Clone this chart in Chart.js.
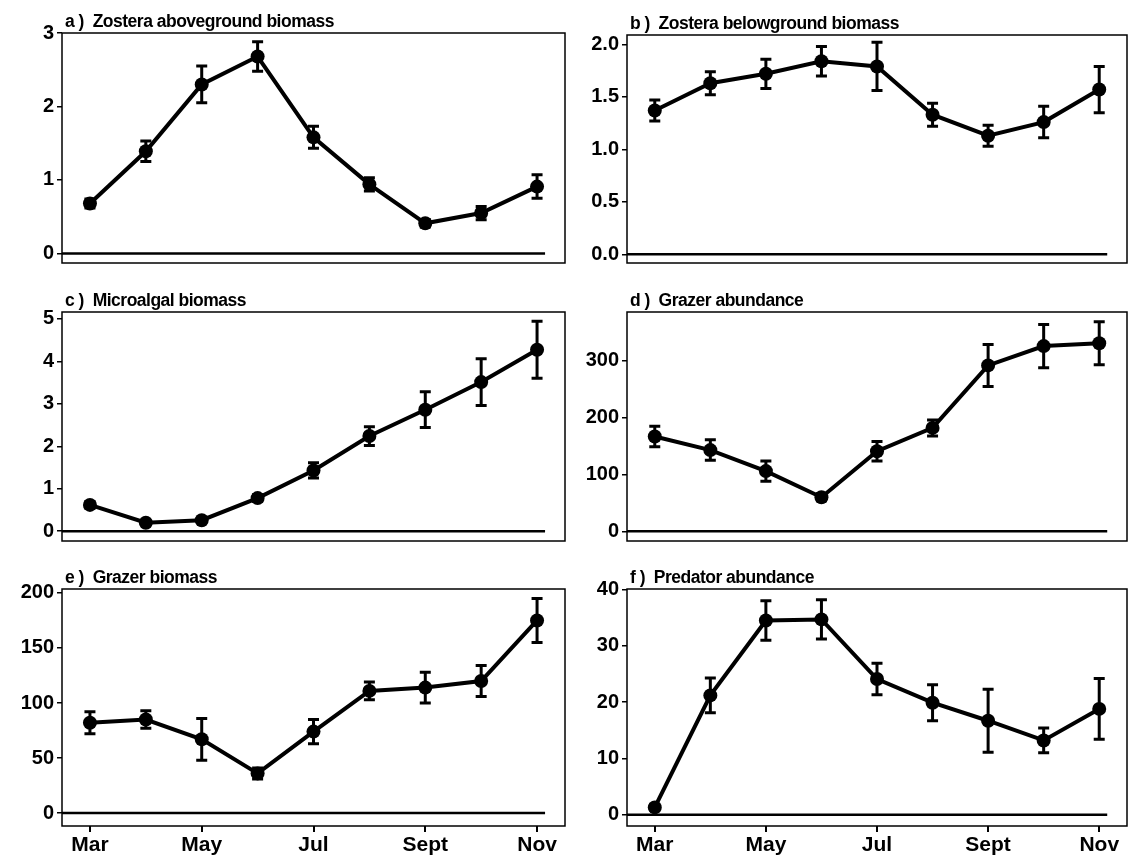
<!DOCTYPE html>
<html>
<head>
<meta charset="utf-8">
<script src="https://cdn.jsdelivr.net/npm/chart.js@4.4.0/dist/chart.umd.min.js"></script>
<style>
  body { margin: 0; background: #fff; }
  #wrap { position: relative; width: 1134px; height: 861px; overflow: hidden; }
  canvas { position: absolute; }
</style>
</head>
<body>
<div id="wrap">
  <canvas id="pa" width="572" height="278" style="left:0;top:0"></canvas>
  <canvas id="pb" width="562" height="278" style="left:572px;top:0"></canvas>
  <canvas id="pc" width="572" height="278" style="left:0;top:278px"></canvas>
  <canvas id="pd" width="562" height="278" style="left:572px;top:278px"></canvas>
  <canvas id="pe" width="572" height="305" style="left:0;top:556px"></canvas>
  <canvas id="pf" width="562" height="305" style="left:572px;top:556px"></canvas>
</div>
<script>
// sampling months and the labels shown under the bottom panels
const months = ["Mar", "Apr", "May", "Jun", "Jul", "Aug", "Sept", "Oct", "Nov"];
const monthLabels = ["Mar", "", "May", "", "Jul", "", "Sept", "", "Nov"];

// a) Zostera aboveground biomass
const aboveMean = [0.68, 1.39, 2.30, 2.68, 1.58, 0.94, 0.41, 0.55, 0.91];
const aboveErr = [0.06, 0.14, 0.25, 0.20, 0.15, 0.09, 0.05, 0.09, 0.16];
const aboveTicks = [0, 1, 2, 3];

// b) Zostera belowground biomass
const belowMean = [1.37, 1.63, 1.72, 1.84, 1.79, 1.33, 1.13, 1.26, 1.57];
const belowErr = [0.10, 0.11, 0.14, 0.14, 0.23, 0.11, 0.10, 0.15, 0.22];
const belowTicks = [0, 0.5, 1, 1.5, 2];

// c) Microalgal biomass
const algaeMean = [0.62, 0.20, 0.26, 0.78, 1.43, 2.24, 2.86, 3.51, 4.27];
const algaeErr = [0.08, 0.05, 0.05, 0.08, 0.18, 0.22, 0.42, 0.55, 0.67];
const algaeTicks = [0, 1, 2, 3, 4, 5];

// d) Grazer abundance
const grazerAbMean = [167, 143, 106, 60, 141, 182, 292, 326, 331];
const grazerAbErr = [18, 18, 18, 6, 17, 14, 37, 38, 38];
const grazerAbTicks = [0, 100, 200, 300];

// e) Grazer biomass
const grazerBmMean = [82, 85, 67, 36, 74, 111, 114, 120, 175];
const grazerBmErr = [10, 8, 19, 5, 11, 8, 14, 14, 20];
const grazerBmTicks = [0, 50, 100, 150, 200];

// f) Predator abundance
const predMean = [1.3, 21.2, 34.5, 34.7, 24.1, 19.9, 16.7, 13.2, 18.8];
const predErr = [0.5, 3.1, 3.5, 3.5, 2.8, 3.2, 5.6, 2.2, 5.4];
const predTicks = [0, 10, 20, 30, 40];

const FONT = "'Liberation Sans', Arial, Helvetica, sans-serif";

const panelDecor = {
  id: "panelDecor",
  beforeDatasetsDraw(chart, args, opts) {
    const { ctx, chartArea, scales } = chart;
    const x = scales.x, y = scales.y;
    ctx.save();
    // zero line
    const y0 = y.getPixelForValue(0);
    ctx.strokeStyle = "#000";
    ctx.lineWidth = 2.5;
    ctx.beginPath();
    ctx.moveTo(chartArea.left, y0);
    ctx.lineTo(x.getPixelForValue(months.length - 1) + 8, y0);
    ctx.stroke();
    // error bars
    ctx.lineWidth = 3;
    opts.err.forEach((e, i) => {
      const px = x.getPixelForValue(i);
      const top = y.getPixelForValue(opts.mean[i] + e);
      const bot = y.getPixelForValue(opts.mean[i] - e);
      ctx.beginPath();
      ctx.moveTo(px, top); ctx.lineTo(px, bot);
      ctx.moveTo(px - 5.5, top); ctx.lineTo(px + 5.5, top);
      ctx.moveTo(px - 5.5, bot); ctx.lineTo(px + 5.5, bot);
      ctx.stroke();
    });
    ctx.restore();
  },
  afterDraw(chart, args, opts) {
    const { ctx, chartArea } = chart;
    ctx.save();
    ctx.strokeStyle = "#000";
    ctx.lineWidth = 1.5;
    ctx.strokeRect(chartArea.left, chartArea.top, chartArea.right - chartArea.left, chartArea.bottom - chartArea.top);
    ctx.fillStyle = "#000";
    ctx.font = "bold 17.5px " + FONT;
    ctx.letterSpacing = "-0.5px";
    ctx.textBaseline = "alphabetic";
    ctx.fillText(opts.title, chartArea.left + 3, chartArea.top - 6);
    ctx.restore();
  }
};

function makePanel(id, title, mean, err, ticks, decimals, yMin, yMax, layout) {
  new Chart(document.getElementById(id), {
    type: "line",
    data: {
      labels: months,
      datasets: [{
        data: mean,
        borderColor: "#000",
        backgroundColor: "#000",
        borderWidth: 4,
        pointRadius: 7,
        pointBorderWidth: 0,
        tension: 0
      }]
    },
    options: {
      responsive: false,
      animation: false,
      devicePixelRatio: 1,
      layout: { padding: { top: layout.top, right: layout.right, left: 0, bottom: 0 } },
      plugins: {
        legend: { display: false },
        tooltip: { enabled: false },
        panelDecor: { title: title, mean: mean, err: err }
      },
      scales: {
        x: {
          type: "category",
          offset: true,
          border: { display: false },
          grid: {
            drawOnChartArea: false,
            drawTicks: layout.showX,
            tickLength: 6,
            lineWidth: 2,
            color: (c) => (c.index % 2 === 0 ? "#000" : "rgba(0,0,0,0)")
          },
          ticks: {
            display: layout.showX,
            autoSkip: false,
            maxRotation: 0,
            padding: 1,
            color: "#000",
            font: { family: FONT, size: 21, weight: "bold" },
            callback: (v, i) => monthLabels[i]
          },
          afterFit: (s) => { s.height = layout.xh; }
        },
        y: {
          type: "linear",
          min: yMin,
          max: yMax,
          border: { display: false },
          grid: { drawOnChartArea: false, tickLength: 5, lineWidth: 1.5, color: "#000" },
          ticks: {
            padding: 3,
            color: "#000",
            font: { family: FONT, size: 20, weight: "bold" },
            callback: (v) => v.toFixed(decimals)
          },
          afterBuildTicks: (s) => { s.ticks = ticks.map((v) => ({ value: v })); },
          afterFit: (s) => { s.width = layout.yw; }
        }
      }
    },
    plugins: [panelDecor]
  });
}

const colL = { yw: 62, right: 5 };
const colR = { yw: 55, right: 3 };

makePanel("pa", "a )  Zostera aboveground biomass", aboveMean, aboveErr, aboveTicks, 0, -0.13, 3.0,
  { ...colL, top: 33, xh: 8, showX: false });
makePanel("pb", "b )  Zostera belowground biomass", belowMean, belowErr, belowTicks, 1, -0.083, 2.09,
  { ...colR, top: 35, xh: 8, showX: false });
makePanel("pc", "c )  Microalgal biomass", algaeMean, algaeErr, algaeTicks, 0, -0.23, 5.16,
  { ...colL, top: 34, xh: 9, showX: false });
makePanel("pd", "d )  Grazer abundance", grazerAbMean, grazerAbErr, grazerAbTicks, 0, -17, 386,
  { ...colR, top: 34, xh: 9, showX: false });
makePanel("pe", "e )  Grazer biomass", grazerBmMean, grazerBmErr, grazerBmTicks, 0, -11.8, 203.6,
  { ...colL, top: 33, xh: 35, showX: true });
makePanel("pf", "f )  Predator abundance", predMean, predErr, predTicks, 0, -2, 40.1,
  { ...colR, top: 33, xh: 35, showX: true });
</script>
</body>
</html>
